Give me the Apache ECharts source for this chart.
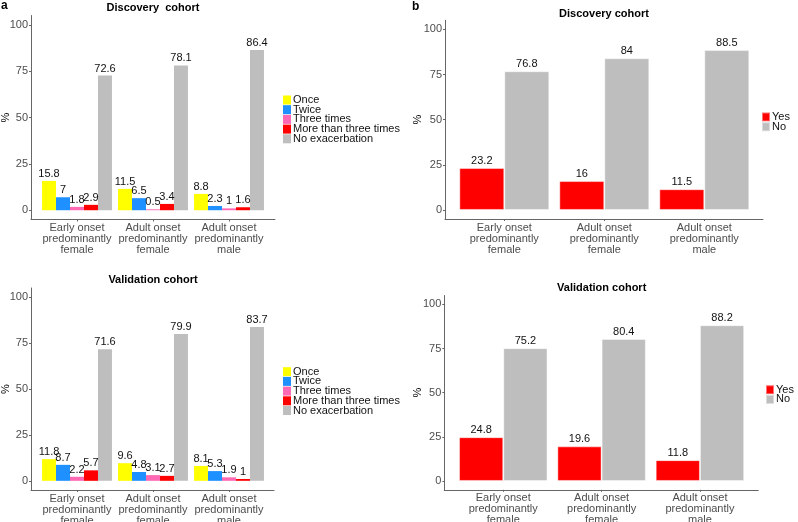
<!DOCTYPE html>
<html>
<head>
<meta charset="utf-8">
<script src="https://cdn.jsdelivr.net/npm/echarts@6/dist/echarts.min.js"></script>
<style>html,body{margin:0;padding:0;background:#fff}#c{width:798px;height:522px}</style>
</head>
<body>
<div id="c"></div>
<script>
// ---- data ----
const categories = ['Early onset\npredominantly\nfemale', 'Adult onset\npredominantly\nfemale', 'Adult onset\npredominantly\nmale'];
const freqNames = ['Once', 'Twice', 'Three times', 'More than three times', 'No exacerbation'];
const ynNames = ['Yes', 'No'];
const yTicks = [0, 25, 50, 75, 100];

// Panel a, discovery cohort
const discOnce = [15.8, 11.5, 8.8];
const discTwice = [7, 6.5, 2.3];
const discThree = [1.8, 0.5, 1];
const discMore = [2.9, 3.4, 1.6];
const discNone = [72.6, 78.1, 86.4];
// Panel a, validation cohort
const valOnce = [11.8, 9.6, 8.1];
const valTwice = [8.7, 4.8, 5.3];
const valThree = [2.2, 3.1, 1.9];
const valMore = [5.7, 2.7, 1];
const valNone = [71.6, 79.9, 83.7];
// Panel b, discovery cohort
const discYes = [23.2, 16, 11.5];
const discNo = [76.8, 84, 88.5];
// Panel b, validation cohort
const valYes = [24.8, 19.6, 11.8];
const valNo = [75.2, 80.4, 88.2];

const freqColors = ['#FFFF00', '#1E90FF', '#FF69B4', '#FF0000', '#BEBEBE'];
const ynColors = ['#FF0000', '#BEBEBE'];

// ---- layout ----
const FONT = '"Liberation Sans", Arial, sans-serif';
const panels = [
  { title: 'Discovery  cohort', tx: 153, ty: 7, aux: {left: 31, width: 244, top: 15.5, height: 204},
    main: {left: 39, width: 228}, legend: {left: 283, top: 94.5}, names: freqNames, colors: freqColors,
    data: [discOnce, discTwice, discThree, discMore, discNone], gap: '8%', nameGap: 20, border: 0 },
  { title: 'Validation cohort', tx: 153, ty: 279.3, aux: {left: 31, width: 243, top: 288, height: 202},
    main: {left: 39, width: 228}, legend: {left: 283, top: 366.2}, names: freqNames, colors: freqColors,
    data: [valOnce, valTwice, valThree, valMore, valNone], gap: '8%', nameGap: 20, border: 0 },
  { title: 'Discovery cohort', tx: 604, ty: 12.7, aux: {left: 445, width: 318, top: 20.3, height: 198.7},
    main: {left: 454.3, width: 300}, legend: {left: 761, top: 111.5}, names: ynNames, colors: ynColors,
    data: [discYes, discNo], gap: '10%', nameGap: 21.5, border: 1 },
  { title: 'Validation cohort', tx: 601.7, ty: 286.7, aux: {left: 444.3, width: 314, top: 295.5, height: 194.3},
    main: {left: 454.1, width: 295}, legend: {left: 765, top: 384.2}, names: ynNames, colors: ynColors,
    data: [valYes, valNo], gap: '10%', nameGap: 21, border: 1 }
];

const grid = [], xAxis = [], yAxis = [], series = [], legend = [];
const title = [
  { text: 'a', left: 1, top: 0, padding: 0, textStyle: {fontFamily: FONT, fontSize: 12, fontWeight: 'bold', color: '#000'} },
  { text: 'b', left: 412, top: 1, padding: 0, textStyle: {fontFamily: FONT, fontSize: 12, fontWeight: 'bold', color: '#000'} }
];
const axisColor = '#666';

panels.forEach((p, i) => {
  const a = 2 * i, m = 2 * i + 1;
  grid.push({ left: p.aux.left, width: p.aux.width, top: p.aux.top, height: p.aux.height, containLabel: false, outerBoundsMode: 'none' });
  grid.push({ left: p.main.left, width: p.main.width, top: p.aux.top, height: p.aux.height, containLabel: false, outerBoundsMode: 'none' });
  // auxiliary axes: visible y axis and full-length x axis line
  xAxis.push({ gridIndex: a, type: 'value', min: 0, max: 1,
    axisLine: {show: true, onZero: false, lineStyle: {color: axisColor, width: 1}},
    axisTick: {show: false}, axisLabel: {show: false}, splitLine: {show: false} });
  yAxis.push({ gridIndex: a, type: 'value', min: -5, max: 105,
    name: '%', nameLocation: 'middle', nameGap: p.nameGap, nameRotate: 90, nameMoveOverlap: false,
    nameTextStyle: {fontFamily: FONT, fontSize: 11, color: '#000'},
    axisLine: {show: true, onZero: false, lineStyle: {color: axisColor, width: 1}},
    axisTick: {show: true, length: 2, customValues: yTicks, lineStyle: {color: axisColor}},
    axisLabel: {show: true, customValues: yTicks, margin: 3, fontFamily: FONT, fontSize: 11, color: '#4D4D4D'},
    splitLine: {show: false} });
  // main axes
  xAxis.push({ gridIndex: m, type: 'category', data: categories,
    axisLine: {show: false, onZero: false},
    axisTick: {show: true, alignWithLabel: true, length: 2, lineStyle: {color: axisColor}},
    axisLabel: {interval: 0, margin: 3, fontFamily: FONT, fontSize: 11, lineHeight: 11, color: '#4D4D4D'} });
  yAxis.push({ gridIndex: m, type: 'value', min: -5, max: 105, show: false, splitLine: {show: false} });

  p.names.forEach((n, k) => {
    series.push({ type: 'bar', name: n, xAxisIndex: m, yAxisIndex: m, data: p.data[k],
      barGap: '0%', barCategoryGap: p.gap,
      itemStyle: {color: p.colors[k], borderColor: 'rgba(255,255,255,0.45)', borderWidth: p.border},
      label: {show: true, position: 'top', distance: 1.5, fontFamily: FONT, fontSize: 11, color: '#111'} });
  });

  legend.push({ data: p.names, orient: 'vertical', left: p.legend.left, top: p.legend.top, padding: 0,
    itemWidth: 8, itemHeight: 9, itemGap: -1.3, icon: 'rect', selectedMode: false,
    textStyle: {fontFamily: FONT, fontSize: 11, color: '#111', padding: [0, 0, 0, -3]} });

  title.push({ text: p.title, left: p.tx, top: p.ty - 4.5, textAlign: 'center', padding: 0,
    textStyle: {fontFamily: FONT, fontSize: 11, fontWeight: 'bold', color: '#000'} });
});

const chart = echarts.init(document.getElementById('c'), null, {renderer: 'canvas'});
chart.setOption({ animation: false, backgroundColor: '#fff', title, grid, xAxis, yAxis, legend, series });
</script>
</body>
</html>
